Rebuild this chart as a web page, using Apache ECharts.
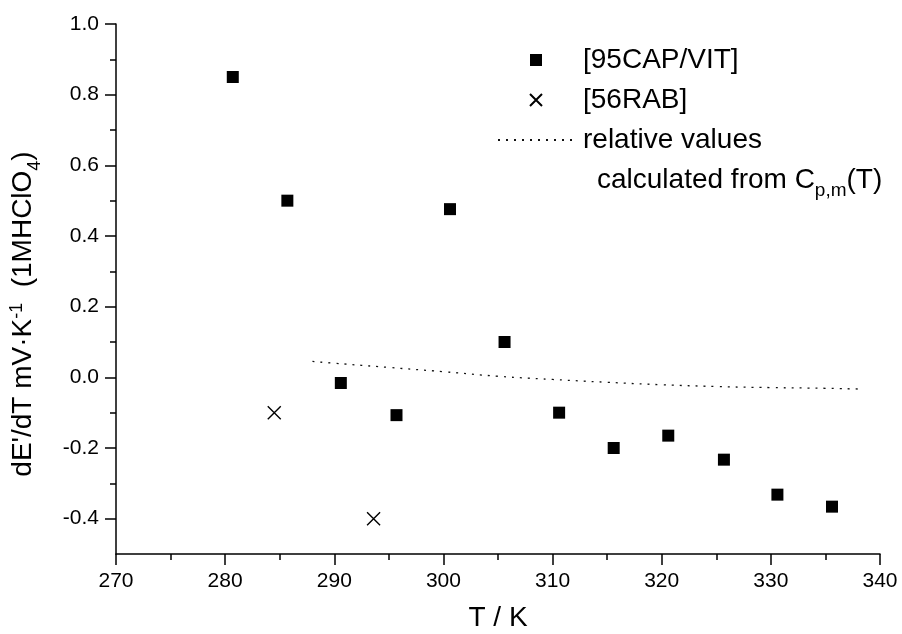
<!DOCTYPE html>
<html>
<head>
<meta charset="utf-8">
<title>dE'/dT vs T</title>
<script src="https://cdn.jsdelivr.net/npm/echarts@6/dist/echarts.min.js"></script>
<style>
    html,body{margin:0;padding:0;background:#fff;}
    #chart{width:902px;height:634px;}
</style>
</head>
<body>
<div id="chart"></div>
<script>
// [95CAP/VIT] squares
var capT = [280.7, 285.7, 290.6, 295.7, 300.6, 305.6, 310.6, 315.6, 320.6, 325.7, 330.6, 335.6];
var capV = [0.85, 0.50, -0.016, -0.107, 0.476, 0.10, -0.10, -0.20, -0.165, -0.233, -0.332, -0.366];
// [56RAB] crosses
var rabT = [284.5, 293.6];
var rabV = [-0.10, -0.40];
// relative values calculated from Cp,m(T)
var calcT = [288, 290, 295, 300, 305, 310, 315, 320, 325, 330, 335, 338];
var calcV = [0.045, 0.040, 0.028, 0.016, 0.003, -0.006, -0.014, -0.021, -0.026, -0.029, -0.031, -0.033];

var xTicks = [270, 280, 290, 300, 310, 320, 330, 340];
var yTicks = [-0.4, -0.2, 0.0, 0.2, 0.4, 0.6, 0.8, 1.0];
var yMinorTicks = [-0.3, -0.1, 0.1, 0.3, 0.5, 0.7, 0.9];

var FONT = "'Liberation Sans', Arial, sans-serif";
var CROSS = 'path://M0,0L10,10M10,0L0,10';

function pairs(xs, ys) {
    var out = [];
    for (var i = 0; i < xs.length; i++) {
        out.push([xs[i], ys[i]]);
    }
    return out;
}

var chart = echarts.init(document.getElementById('chart'));
var option = {
    animation: false,
    backgroundColor: '#fff',
    textStyle: {fontFamily: FONT, color: '#000'},
    grid: {left: 116, right: 22, top: 24, bottom: 80, containLabel: false, outerBoundsMode: 'none'},
    legend: {
        orient: 'vertical',
        left: 497,
        top: 46,
        padding: 0,
        itemWidth: 76,
        itemHeight: 12,
        itemGap: 12,
        symbolKeepAspect: true,
        selectedMode: false,
        textStyle: {fontFamily: FONT, fontSize: 28, lineHeight: 28, color: '#000', padding: [0, 0, 0, 4]},
        data: [
            {name: '[95CAP/VIT]', icon: 'path://M0,0h10v10h-10z'},
            {name: '[56RAB]', icon: CROSS},
            {name: 'relative values', itemStyle: {opacity: 0}}
        ]
    },
    xAxis: {
        type: 'value',
        min: xTicks[0],
        max: xTicks[xTicks.length - 1],
        interval: 10,
        name: 'T / K',
        nameLocation: 'middle',
        nameGap: 50,
        nameTextStyle: {fontFamily: FONT, fontSize: 28, color: '#000'},
        axisLine: {show: true, onZero: false, lineStyle: {color: '#000', width: 1.5}},
        axisTick: {show: true, inside: false, length: 11, lineStyle: {color: '#000', width: 1.5}},
        minorTick: {show: true, splitNumber: 2, length: 6, lineStyle: {color: '#000', width: 1.5}},
        axisLabel: {margin: 17, fontFamily: FONT, fontSize: 21, color: '#000'},
        splitLine: {show: false}
    },
    yAxis: [
        {
            type: 'value',
            min: -0.5,
            max: 1.0,
            position: 'left',
            name: "dE'/dT mV·K{sup|-1}  (1MHClO{sub|4})",
            nameLocation: 'middle',
            nameRotate: 90,
            nameGap: 72,
            nameTextStyle: {
                fontFamily: FONT, fontSize: 28, color: '#000', padding: [0, 50, 0, 0],
                rich: {
                    sup: {fontFamily: FONT, fontSize: 18, color: '#000', padding: [0, 0, 12, 0]},
                    sub: {fontFamily: FONT, fontSize: 18, color: '#000', padding: [24, 0, 0, 0]}
                }
            },
            axisLine: {show: true, onZero: false, lineStyle: {color: '#000', width: 1.5}},
            axisTick: {show: true, inside: false, length: 11, customValues: yTicks, lineStyle: {color: '#000', width: 1.5}},
            axisLabel: {
                margin: 17, fontFamily: FONT, fontSize: 21, color: '#000', customValues: yTicks,
                formatter: function (v) { return v.toFixed(1); }
            },
            splitLine: {show: false}
        },
        {
            // minor ticks only
            type: 'value',
            min: -0.5,
            max: 1.0,
            position: 'left',
            offset: 0,
            axisLine: {show: false},
            axisTick: {show: true, inside: false, length: 6, customValues: yMinorTicks, lineStyle: {color: '#000', width: 1.5}},
            axisLabel: {show: false},
            splitLine: {show: false}
        }
    ],
    graphic: [
        {
            type: 'text',
            x: 597,
            y: 180,
            style: {
                text: 'calculated from C{sub|p,m}(T)',
                fontFamily: FONT,
                fontSize: 28,
                fill: '#000',
                verticalAlign: 'middle',
                rich: {
                    sub: {fontFamily: FONT, fontSize: 19, fill: '#000', padding: [22, 0, 0, 0]}
                }
            }
        }
    ],
    series: [
        {
            name: '[95CAP/VIT]',
            type: 'scatter',
            symbol: 'rect',
            symbolSize: 12,
            itemStyle: {color: '#000', opacity: 1},
            data: pairs(capT, capV)
        },
        {
            name: '[56RAB]',
            type: 'scatter',
            symbol: CROSS,
            symbolSize: 13,
            itemStyle: {color: 'transparent', borderColor: '#000', borderWidth: 1.4, opacity: 1},
            data: pairs(rabT, rabV)
        },
        {
            name: 'relative values',
            type: 'line',
            smooth: true,
            symbol: 'none',
            itemStyle: {color: '#222'},
            lineStyle: {color: '#111', width: 1.3, type: [2, 6]},
            data: pairs(calcT, calcV)
        }
    ]
};
chart.setOption(option);
</script>
</body>
</html>
